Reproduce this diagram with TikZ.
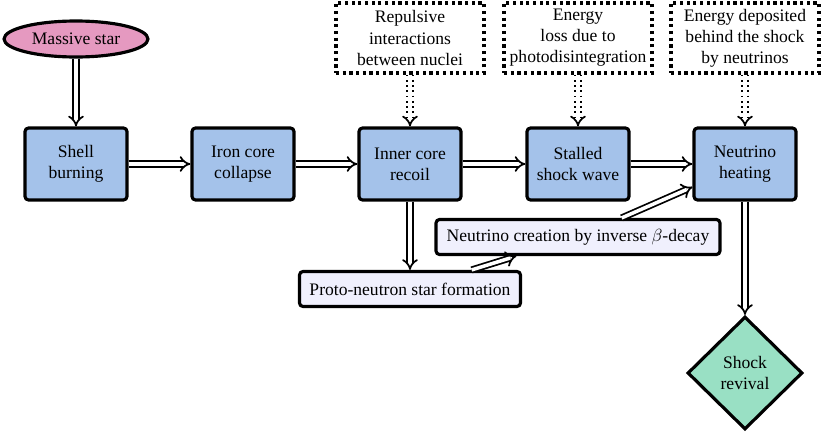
\documentclass[tikz,border=0pt]{standalone}
\usepackage{fontspec}
\setmainfont{Liberation Serif}
\usetikzlibrary{shapes.geometric,arrows.meta}
\definecolor{procblue}{RGB}{164,194,234}
\definecolor{starpink}{RGB}{229,153,192}
\definecolor{revgreen}{RGB}{153,224,196}
\definecolor{palelav}{RGB}{240,240,253}

\begin{document}
\begin{tikzpicture}[x=0.02cm, y=-0.02cm,
  process/.style={draw, line width=1.8pt, rounded corners=2pt, fill=procblue, align=center, minimum width=2.04cm, minimum height=1.44cm},
  note/.style={draw, dotted, line width=1.8pt, align=center, inner sep=1pt, minimum width=2.96cm, minimum height=1.4cm},
  sub/.style={draw, line width=1.8pt, rounded corners=2pt, fill=palelav, minimum height=0.7cm},
  flow/.style={double, double distance=2pt, line width=1pt, -{Implies}},
  hint/.style={flow, dotted}]
\useasboundingbox (0,0) rectangle (823,433);

\node[draw, ellipse, line width=1.8pt, fill=starpink, inner sep=0pt, minimum width=2.88cm, minimum height=0.72cm] (star) at (76,39) {Massive star};
\node[process] (shell) at (76,164) {Shell\\burning};
\node[process] (iron) at (243,164) {Iron core\\collapse};
\node[process] (recoil) at (410,164) {Inner core\\recoil};
\node[process] (stall) at (578,164) {Stalled\\shock wave};
\node[process] (heat) at (745,164) {Neutrino\\heating};

\node[note] (repul) at (410,38) {Repulsive\\interactions\\between nuclei};
\node[note] (loss) at (578,38) {Energy\\loss due to\\photodisintegration};
\node[note] (depo) at (745,38) {Energy deposited\\behind the shock\\by neutrinos};

\node[sub, minimum width=4.42cm] (proto) at (410,289) {Proto-neutron star formation};
\node[sub, minimum width=5.68cm] (create) at (578,237) {Neutrino creation by inverse $\beta$-decay};
\node[draw, diamond, aspect=1, line width=1.8pt, fill=revgreen, align=center, inner sep=0pt, minimum width=2.3cm, minimum height=2.26cm] (revive) at (745,373) {Shock\\revival};

% main chain
\draw[flow] (star) -- (shell);
\foreach \a/\b in {shell/iron, iron/recoil, recoil/stall, stall/heat}
  \draw[flow] (\a) -- (\b);
\foreach \a/\b in {repul/recoil, loss/stall, depo/heat}
  \draw[hint] (\a) -- (\b);

\draw[flow] (recoil) -- (proto);
\draw[flow] (proto) -- (create);
\draw[flow] (create) -- (heat);
\draw[flow] (heat) -- (revive);
\end{tikzpicture}
\end{document}
